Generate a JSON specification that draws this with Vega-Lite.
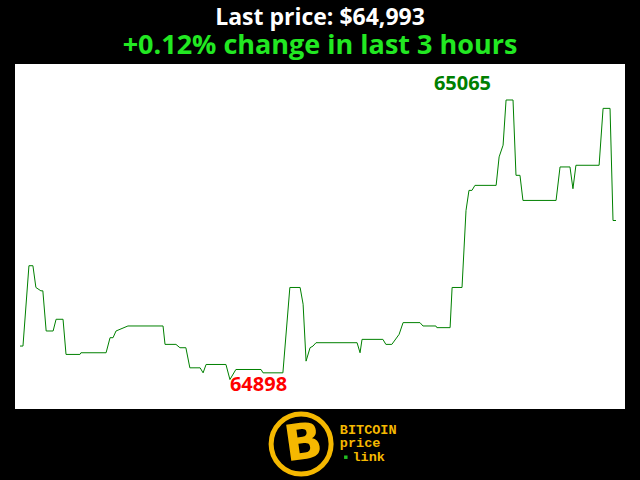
{
  "$schema": "https://vega.github.io/schema/vega-lite/v6.json",
  "autosize": "none",
  "width": 610,
  "height": 345,
  "padding": {"left": 15, "right": 15, "top": 64, "bottom": 71},
  "background": "black",
  "config": {"view": {"fill": "white", "stroke": null}},
  "title": {
    "text": "Last price: $64,993",
    "subtitle": "+0.12% change in last 3 hours",
    "color": "white",
    "subtitleColor": "#22e822",
    "font": "Open Sans",
    "subtitleFont": "Open Sans",
    "fontSize": 23,
    "subtitleFontSize": 27,
    "fontWeight": "bold",
    "subtitleFontWeight": "bold",
    "anchor": "middle",
    "offset": 5,
    "subtitlePadding": 3
  },
  "data": {"values": [
    {"t": 0, "price": 64918}, {"t": 0.9, "price": 64918}, {"t": 2.7, "price": 64966}, {"t": 3.9, "price": 64966},
    {"t": 4.8, "price": 64953}, {"t": 6.3, "price": 64951}, {"t": 6.9, "price": 64951}, {"t": 7.9, "price": 64927},
    {"t": 10.0, "price": 64927}, {"t": 10.9, "price": 64934}, {"t": 13.0, "price": 64934}, {"t": 13.9, "price": 64913},
    {"t": 18.1, "price": 64913}, {"t": 18.4, "price": 64914}, {"t": 26.0, "price": 64914}, {"t": 27.2, "price": 64923},
    {"t": 28.1, "price": 64923}, {"t": 29.0, "price": 64927}, {"t": 30.2, "price": 64928}, {"t": 32.6, "price": 64930},
    {"t": 43.2, "price": 64930}, {"t": 43.8, "price": 64919}, {"t": 47.1, "price": 64919}, {"t": 48.3, "price": 64917},
    {"t": 50.1, "price": 64917}, {"t": 51.3, "price": 64905}, {"t": 54.4, "price": 64905}, {"t": 55.3, "price": 64902},
    {"t": 56.2, "price": 64907}, {"t": 62.2, "price": 64907}, {"t": 63.4, "price": 64898}, {"t": 65.2, "price": 64904},
    {"t": 72.8, "price": 64904}, {"t": 73.4, "price": 64902}, {"t": 79.4, "price": 64902}, {"t": 81.5, "price": 64953},
    {"t": 84.6, "price": 64953}, {"t": 85.5, "price": 64943}, {"t": 86.4, "price": 64909}, {"t": 87.6, "price": 64917},
    {"t": 88.5, "price": 64918}, {"t": 89.4, "price": 64920}, {"t": 101.8, "price": 64920}, {"t": 102.7, "price": 64914},
    {"t": 103.3, "price": 64922}, {"t": 109.6, "price": 64922}, {"t": 110.5, "price": 64919}, {"t": 112.3, "price": 64919},
    {"t": 114.5, "price": 64925}, {"t": 115.7, "price": 64932}, {"t": 120.8, "price": 64932}, {"t": 121.7, "price": 64930},
    {"t": 125.6, "price": 64930}, {"t": 125.9, "price": 64929}, {"t": 129.9, "price": 64929}, {"t": 130.5, "price": 64953},
    {"t": 133.5, "price": 64953}, {"t": 134.7, "price": 64999}, {"t": 135.6, "price": 65011}, {"t": 136.5, "price": 65011},
    {"t": 137.4, "price": 65014}, {"t": 143.8, "price": 65014}, {"t": 144.7, "price": 65031}, {"t": 145.9, "price": 65038},
    {"t": 146.8, "price": 65065}, {"t": 148.9, "price": 65065}, {"t": 149.8, "price": 65020}, {"t": 151.0, "price": 65020},
    {"t": 151.9, "price": 65005}, {"t": 161.9, "price": 65005}, {"t": 163.1, "price": 65025}, {"t": 166.1, "price": 65025},
    {"t": 167.0, "price": 65012}, {"t": 167.9, "price": 65026}, {"t": 174.9, "price": 65026}, {"t": 176.1, "price": 65060},
    {"t": 178.2, "price": 65060}, {"t": 179.1, "price": 64993}, {"t": 180, "price": 64993}
  ]},
  "encoding": {
    "x": {"field": "t", "type": "quantitative", "axis": null, "scale": {"domain": [-1.51, 182.72], "nice": false, "zero": false}},
    "y": {"field": "price", "type": "quantitative", "axis": null, "scale": {"domain": [64880.4, 65086.5], "nice": false, "zero": false}}
  },
  "layer": [
    {"mark": {"type": "line", "color": "#008000", "strokeWidth": 1}},
    {
      "data": {"values": [{"t": 146.8, "price": 65065, "label": "65065"}]},
      "mark": {"type": "text", "color": "#008000", "font": "Open Sans", "fontWeight": "bold", "fontSize": 20, "align": "right", "baseline": "alphabetic", "dx": -15, "dy": -10},
      "encoding": {"text": {"field": "label"}}
    },
    {
      "data": {"values": [{"t": 63.4, "price": 64898, "label": "64898"}]},
      "mark": {"type": "text", "color": "#ff0000", "font": "Open Sans", "fontWeight": "bold", "fontSize": 20, "align": "left", "baseline": "alphabetic", "dx": 0, "dy": 11},
      "encoding": {"text": {"field": "label"}}
    },
    {
      "data": {"values": [{"t": 84.9, "price": 64859.5, "item": "ring"}]},
      "mark": {"type": "point", "shape": "circle", "size": 3600, "filled": false, "stroke": "#f5b800", "strokeWidth": 5, "fill": "black", "fillOpacity": 1, "opacity": 1, "clip": false}
    },
    {
      "data": {"values": [{"t": 85.6, "price": 64859.5, "item": "B"}]},
      "mark": {"type": "text", "color": "#f5b800", "font": "DejaVu Sans", "fontWeight": "bold", "fontSize": 50, "align": "center", "baseline": "middle", "angle": -8, "clip": false},
      "encoding": {"text": {"field": "item"}}
    },
    {
      "data": {"values": [{"t": 96.6, "price": 64868.0, "item": "BITCOIN"}, {"t": 96.6, "price": 64859.8, "item": "price"}, {"t": 100.4, "price": 64851.6, "item": "link"}]},
      "mark": {"type": "text", "color": "#f5b800", "font": "Liberation Mono", "fontWeight": "bold", "fontSize": 13.5, "align": "left", "baseline": "middle", "clip": false},
      "encoding": {"text": {"field": "item"}}
    },
    {
      "data": {"values": [{"t": 98.4, "price": 64851.6, "item": "dot"}]},
      "mark": {"type": "square", "color": "#22c022", "size": 12, "opacity": 1, "clip": false}
    }
  ]
}
